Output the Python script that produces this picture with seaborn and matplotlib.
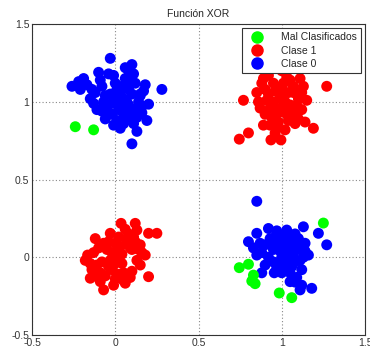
import matplotlib
matplotlib.use("Agg")
import matplotlib.pyplot as plt
import seaborn as sns
import pandas as pd
from matplotlib.lines import Line2D

# Clase 0 (blue) - cluster near (0,1)
c0_tl_x = [-0.03, 0.10, 0.08, -0.10, -0.04, -0.19, -0.22, -0.26, -0.21, 0.28, 0.18, -0.15, 0.20, -0.11, 0.19,
           -0.06, 0.03, 0.11, 0.13, 0.10, -0.01, 0.16, 0.15, -0.08, -0.12,
           0.00, 0.05, 0.02, 0.08, 0.10, -0.03, 0.04, 0.12, -0.05, 0.07, 0.00, 0.06, -0.02, 0.12, 0.03,
           0.09, -0.07, 0.14, 0.01, -0.09, 0.11, 0.05, -0.13, 0.17, 0.06, -0.01, 0.08, 0.13,
           -0.17, -0.14, -0.06, 0.04, 0.09, 0.15, -0.04, 0.02, 0.07, 0.11, -0.08, 0.16, 0.01, 0.05, -0.02]
c0_tl_y = [1.28, 1.24, 1.20, 1.19, 1.18, 1.15, 1.13, 1.10, 1.08, 1.08, 1.11, 1.02, 0.985, 0.95, 0.88,
           0.89, 0.83, 0.86, 0.81, 0.73, 0.85, 0.93, 1.05, 1.10, 1.06,
           1.00, 1.02, 0.95, 0.98, 1.05, 1.05, 1.10, 0.95, 0.97, 0.92, 1.12, 1.15, 0.92, 1.12, 1.06,
           0.90, 1.00, 1.00, 0.88, 1.14, 1.18, 0.86, 0.99, 1.07, 1.22, 1.17, 1.08, 0.90,
           1.11, 1.08, 1.04, 0.97, 1.13, 1.04, 0.93, 1.02, 1.00, 0.92, 0.94, 0.97, 1.08, 0.90, 0.99]

# Clase 0 (blue) - cluster near (1,0)
c0_br_x = [0.85, 0.92, 0.85, 0.80, 1.13, 1.22, 1.27, 1.03, 0.85, 0.88, 0.955, 1.05, 1.12, 1.18, 1.11,
           1.16, 1.14, 0.97, 1.08, 0.83,
           1.00, 1.05, 0.95, 1.02, 1.08, 0.92, 0.98, 1.06, 1.10, 0.90, 1.12, 1.00, 1.05, 0.95, 1.03,
           1.09, 0.88, 1.13, 0.97, 1.07, 1.01, 0.93, 1.04, 1.10, 0.90,
           0.99, 1.03, 1.07, 1.11, 0.94, 1.02, 1.06, 0.96, 1.00, 1.09, 1.04, 1.14, 0.87, 1.08, 1.01]
c0_br_y = [0.36, 0.185, 0.154, 0.10, 0.196, 0.154, 0.08, 0.175, 0.014, -0.10, -0.10, -0.157, -0.18, -0.20, -0.21,
           0.014, 0.09, 0.17, 0.15, 0.06,
           0.00, 0.03, 0.05, -0.05, -0.03, 0.00, 0.10, 0.10, 0.05, 0.08, -0.08, -0.10, -0.10, -0.03, 0.12,
           -0.13, 0.03, 0.00, -0.07, 0.00, 0.07, 0.12, -0.02, 0.12, -0.05,
           0.04, -0.08, 0.06, -0.02, 0.08, 0.02, -0.06, 0.13, -0.03, 0.09, 0.07, 0.04, 0.09, -0.16, 0.14]

# Clase 1 (red) - cluster near (1,1)
c1_tr_x = [0.745, 0.80, 0.77, 0.89, 0.935, 0.995, 1.19, 1.27, 1.15, 1.14, 0.86, 0.85, 0.88, 1.13, 1.12,
           0.96, 1.02, 1.08, 0.90,
           0.95, 1.00, 1.05, 0.98, 1.03, 0.92, 1.07, 1.00, 0.95, 1.05, 1.10, 0.93, 1.08, 0.98, 1.01,
           0.96, 1.04, 0.90, 1.11, 0.92, 1.00, 1.06, 0.97, 1.04, 1.09,
           0.87, 0.94, 1.02, 1.07, 0.99, 0.91, 1.12, 1.03, 0.97, 1.06, 0.95, 1.01, 0.89, 1.10, 1.00,
           0.93, 1.05, 0.98, 1.09]
c1_tr_y = [0.76, 0.80, 1.01, 0.85, 0.755, 0.755, 0.83, 1.10, 1.01, 0.87, 1.00, 1.06, 1.12, 1.10, 0.95,
           0.80, 0.82, 0.86, 0.92,
           1.00, 1.02, 0.98, 0.93, 0.92, 1.05, 1.06, 1.10, 1.12, 1.14, 1.02, 0.96, 0.93, 0.87, 0.97,
           1.07, 1.06, 1.08, 1.15, 1.17, 1.20, 1.22, 0.83, 0.88, 0.98,
           0.96, 0.90, 1.00, 1.10, 1.04, 1.01, 1.06, 1.16, 0.96, 0.90, 0.86, 1.12, 1.15, 0.89, 0.94,
           0.85, 0.95, 1.08, 1.06]

# Clase 1 (red) - cluster near (0,0)
c1_bl_x = [-0.166, -0.18, -0.15, -0.07, -0.12, -0.03, 0.035, 0.12, 0.20, 0.25, 0.18, 0.15, 0.20, 0.06, -0.01,
           -0.09, 0.07, 0.13, -0.14, 0.10, 0.15,
           -0.05, 0.00, -0.08, 0.03, -0.02, 0.05, 0.10, -0.10, 0.02, -0.06, 0.08, 0.12, -0.04, 0.00,
           -0.11, 0.04, 0.13, -0.03, 0.09, 0.06,
           -0.13, -0.07, 0.01, 0.07, -0.01, 0.11, -0.09, 0.04, 0.16, -0.04, 0.02, -0.12, 0.09, 0.00,
           -0.15, 0.14, -0.02, 0.05]
c1_bl_y = [0.014, -0.02, -0.135, -0.21, 0.12, 0.154, 0.218, 0.218, 0.154, 0.154, 0.014, -0.05, -0.125, -0.167, -0.18,
           -0.157, 0.10, 0.175, -0.08, -0.09, 0.08,
           0.05, 0.00, -0.03, 0.07, -0.08, -0.10, 0.05, 0.06, 0.13, -0.12, 0.15, 0.10, 0.10, -0.14,
           -0.05, -0.04, -0.02, -0.02, -0.13, 0.18,
           0.03, 0.09, 0.04, 0.12, -0.05, 0.13, -0.10, 0.02, 0.03, -0.06, -0.11, -0.12, 0.06, 0.09,
           -0.04, 0.05, 0.03, -0.15]

# Mal Clasificados (green)
mal_x = [-0.24, -0.13, 1.25, 0.745, 0.80, 0.83, 0.82, 0.84, 0.985, 1.06]
mal_y = [0.84, 0.82, 0.22, -0.067, -0.045, -0.115, -0.153, -0.17, -0.23, -0.26]

labels = ["Mal Clasificados", "Clase 1", "Clase 0"]
colors = {"Mal Clasificados": "#00ff00", "Clase 1": "#ff0000", "Clase 0": "#0000ff"}

df_c1 = pd.DataFrame({"x": c1_tr_x + c1_bl_x, "y": c1_tr_y + c1_bl_y, "clase": "Clase 1"})
df_c0 = pd.DataFrame({"x": c0_tl_x + c0_br_x, "y": c0_tl_y + c0_br_y, "clase": "Clase 0"})
df_mal = pd.DataFrame({"x": mal_x, "y": mal_y, "clase": "Mal Clasificados"})

sns.set_style("white")
plt.rcParams["font.family"] = ["Liberation Sans", "DejaVu Sans"]

fig = plt.figure(figsize=(3.7, 3.5), dpi=100)
ax = fig.add_axes([0.0865, 0.043, 0.9, 0.888])

for d in (df_c1, df_c0, df_mal):
    sns.scatterplot(data=d, x="x", y="y", hue="clase", palette=colors, s=62,
                    linewidth=0, ax=ax, legend=False, zorder=3)

ax.set_xlim(-0.5, 1.5)
ax.set_ylim(-0.5, 1.5)
ticks = [-0.5, 0, 0.5, 1, 1.5]
ax.set_xticks(ticks)
ax.set_yticks(ticks)
ax.set_xticklabels(["-0.5", "0", "0.5", "1", "1.5"])
ax.set_yticklabels(["-0.5", "0", "0.5", "1", "1.5"])
ax.tick_params(labelsize=7.5, length=0, pad=2, colors="#333333")
ax.grid(True, linestyle=(0, (1, 2)), color="#888888", linewidth=0.8)
ax.set_axisbelow(True)
for sp in ax.spines.values():
    sp.set_color("#333333")
    sp.set_linewidth(0.8)
ax.set_xlabel("")
ax.set_ylabel("")
ax.set_title("Función XOR", fontsize=7.5, pad=5)

handles = [Line2D([], [], marker="o", linestyle="", markersize=8,
                  markerfacecolor=colors[l], markeredgecolor=colors[l]) for l in labels]
leg = ax.legend(handles, labels, loc="upper right", fontsize=7.5, frameon=True,
                fancybox=False, framealpha=1, edgecolor="#333333",
                borderaxespad=0.35, handletextpad=1.3, labelspacing=0.3, borderpad=0.45)
leg.get_frame().set_linewidth(0.8)
leg.set_zorder(5)

fig.savefig("out.png", dpi=100, facecolor="white")
